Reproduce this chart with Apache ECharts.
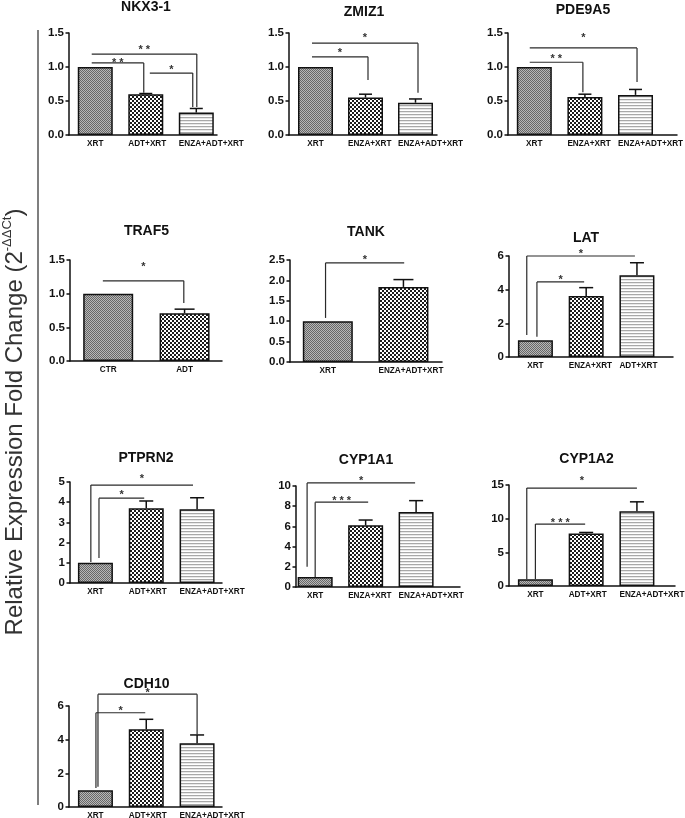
<!DOCTYPE html>
<html>
<head>
<meta charset="utf-8">
<script src="https://cdn.jsdelivr.net/npm/echarts@6/dist/echarts.min.js"></script>
<style>html,body{margin:0;padding:0;background:#fff;}#c{width:685px;height:818px;}</style>
</head>
<body>
<div id="c"></div>
<script>
// ---------------- DATA ----------------
const titles = ['NKX3-1','ZMIZ1','PDE9A5','TRAF5','TANK','LAT','PTPRN2','CYP1A1','CYP1A2','CDH10'];
const categories = [
  ['XRT','ADT+XRT','ENZA+ADT+XRT'],
  ['XRT','ENZA+XRT','ENZA+ADT+XRT'],
  ['XRT','ENZA+XRT','ENZA+ADT+XRT'],
  ['CTR','ADT'],
  ['XRT','ENZA+ADT+XRT'],
  ['XRT','ENZA+XRT','ADT+XRT'],
  ['XRT','ADT+XRT','ENZA+ADT+XRT'],
  ['XRT','ENZA+XRT','ENZA+ADT+XRT'],
  ['XRT','ADT+XRT','ENZA+ADT+XRT'],
  ['XRT','ADT+XRT','ENZA+ADT+XRT']
];
const means = [
  [1.0, 0.60, 0.33],
  [1.0, 0.55, 0.475],
  [1.0, 0.56, 0.59],
  [1.0, 0.71],
  [1.0, 1.84],
  [1.0, 3.62, 4.85],
  [1.0, 3.70, 3.65],
  [1.0, 6.11, 7.43],
  [1.0, 7.80, 11.1],
  [1.0, 4.62, 3.78]
];
const errors = [
  [0, 0.01, 0.06],
  [0, 0.05, 0.055],
  [0, 0.04, 0.08],
  [0, 0.06],
  [0, 0.18],
  [0, 0.50, 0.75],
  [0, 0.36, 0.57],
  [0, 0.52, 1.12],
  [0, 0.15, 1.40],
  [0, 0.59, 0.50]
];
// y-axis tick labels: max, step, decimals
const yMax = [1.5, 1.5, 1.5, 1.5, 2.5, 6, 5, 10, 15, 6];
const yStep = [0.5, 0.5, 0.5, 0.5, 0.5, 2, 1, 2, 5, 2];
const yDecimals = [1, 1, 1, 1, 1, 0, 0, 0, 0, 0];
// significance brackets (data units): [x1, x2, level, leftDropTo, rightDropTo, labelLevel, text]
const brackets = [
  [[-0.07, 2.01, 1.19, null, 0.41, 1.29, '* *'], [-0.07, 0.96, 1.06, null, 0.62, 1.10, '* *'], [1.08, 1.93, 0.91, null, 0.41, 0.99, '*']],
  [[-0.07, 2.05, 1.35, null, 0.62, 1.47, '*'], [-0.07, 1.05, 1.15, null, 0.81, 1.25, '*']],
  [[-0.09, 2.03, 1.28, null, 0.78, 1.47, '*'], [-0.09, 0.96, 1.07, null, 0.63, 1.16, '* *']],
  [[-0.07, 0.99, 1.19, null, 0.86, 1.43, '*']],
  [[-0.03, 1.01, 2.43, 1.08, null, 2.55, '*']],
  [[-0.17, 1.96, 6.0, 1.3, null, 6.24, '*'], [0.03, 0.96, 4.46, 1.2, null, 4.75, '*']],
  [[-0.09, 1.92, 4.85, 1.04, null, 5.25, '*'], [0.07, 0.96, 4.2, 1.24, null, 4.5, '*']],
  [[-0.16, 1.98, 10.3, 2.0, null, 10.7, '*'], [0.0, 1.05, 8.4, 1.0, null, 8.8, '* * *']],
  [[-0.17, 2.0, 14.55, 1.0, null, 15.9, '*'], [0.0, 0.98, 9.2, 1.0, null, 9.66, '* * *']],
  [[0.05, 2.0, 6.7, 1.2, 4.3, 6.95, '*'], [0.01, 0.98, 5.6, 1.13, null, 5.88, '*']]
];
const yTitleMain = 'Relative Expression Fold Change (2';
const yTitleSup = '-ΔΔCt';

// ---------------- LAYOUT ----------------
// [left, top, width, height, xMin, xMax, barWidth, capWidth]
const layout = [
  [69, 33, 148, 102, -0.52, 2.41, 35, 13],
  [289, 33, 148, 102, -0.53, 2.43, 35, 13],
  [508, 33, 169, 102, -0.52, 2.82, 35, 13],
  [70, 260, 152, 101, -0.50, 1.49, 50, 20],
  [290, 260, 152, 102, -0.50, 1.51, 50, 20],
  [509, 256, 164, 101, -0.52, 2.71, 35, 14],
  [70, 482, 152, 101, -0.50, 2.49, 35, 14],
  [296, 486, 164, 101, -0.38, 2.87, 35, 14],
  [509, 485, 166, 101, -0.52, 2.75, 35, 14],
  [69, 706, 153, 101, -0.52, 2.49, 35, 14]
];
const titlePos = [[146,7],[364,12],[583,10],[146.5,231.5],[366,232],[586,238],[146,458.5],[366,460.5],[586.5,459.5],[146.5,684]];

const FONT = 'Liberation Sans, Arial, Helvetica, sans-serif';
const CAT_FONT_SIZE = 8.2;
const measureCtx = document.createElement('canvas').getContext('2d');
measureCtx.font = 'bold ' + CAT_FONT_SIZE + 'px ' + FONT;

function makePattern(kind) {
  const c = document.createElement('canvas');
  let ctx;
  if (kind === 0) {
    c.width = 2; c.height = 2; ctx = c.getContext('2d');
    ctx.fillStyle = '#b8b8b8'; ctx.fillRect(0,0,2,2);
    ctx.fillStyle = '#686868'; ctx.fillRect(0,0,1,1); ctx.fillRect(1,1,1,1);
  } else if (kind === 1) {
    c.width = 4; c.height = 4; ctx = c.getContext('2d');
    ctx.fillStyle = '#ffffff'; ctx.fillRect(0,0,4,4);
    ctx.fillStyle = '#1c1c1c'; ctx.fillRect(0,0,2,2); ctx.fillRect(2,2,2,2);
  } else {
    c.width = 1; c.height = 3; ctx = c.getContext('2d');
    ctx.fillStyle = '#ffffff'; ctx.fillRect(0,0,1,3);
    ctx.fillStyle = '#a8a8a8'; ctx.fillRect(0,0,1,1);
    ctx.fillStyle = '#e8e8e8'; ctx.fillRect(0,1,1,1);
  }
  return { image: c, repeat: 'repeat' };
}
const patterns = [makePattern(0), makePattern(1), makePattern(2)];

const grid = [], xAxis = [], yAxis = [], series = [], graphic = [];

titles.forEach((t, p) => {
  const L = layout[p];
  grid.push({ left: L[0], top: L[1], width: L[2], height: L[3], containLabel: false });
  const cats = categories[p];
  xAxis.push({
    gridIndex: p, type: 'value', min: L[4], max: L[5],
    axisLine: { show: true, onZero: false, lineStyle: { color: '#111', width: 1.5 } },
    axisTick: { show: false },
    splitLine: { show: false },
    axisLabel: { show: false }
  });
  yAxis.push({
    gridIndex: p, type: 'value', min: 0, max: yMax[p], interval: yStep[p],
    axisLine: { show: true, onZero: false, lineStyle: { color: '#111', width: 1.5 } },
    axisTick: { show: true, length: 3.5, lineStyle: { color: '#111', width: 1.5 } },
    splitLine: { show: false },
    axisLabel: {
      formatter: v => v.toFixed(yDecimals[p]),
      fontFamily: FONT, fontWeight: 'bold', fontSize: 11.5, color: '#111', margin: 5
    }
  });
  series.push({
    type: 'bar', xAxisIndex: p, yAxisIndex: p, barWidth: L[6], z: 2,
    data: means[p].map((m, i) => ({
      value: [i, m],
      itemStyle: { color: patterns[i], borderColor: '#111', borderWidth: 1.5 }
    }))
  });
  // category labels placed through the x scale (long labels start at the bar's left edge)
  series.push({
    type: 'custom', xAxisIndex: p, yAxisIndex: p, z: 3, clip: false, silent: true,
    encode: { x: 0, y: 1 },
    data: cats.map((c, i) => [i, 0]),
    renderItem: (params, api) => {
      const pt = api.coord([api.value(0), 0]);
      const txt = cats[params.dataIndex];
      const w = measureCtx.measureText(txt).width;
      const x = pt[0] - Math.min(w, L[6]) / 2;
      return { type: 'text', x: x, y: pt[1] + 4.5, style: {
        text: txt, fontFamily: FONT, fontWeight: 'bold', fontSize: CAT_FONT_SIZE,
        fill: '#111', align: 'left', verticalAlign: 'top' } };
    }
  });
  const errData = [];
  means[p].forEach((m, i) => { if (errors[p][i] > 0) errData.push([i, m, m + errors[p][i]]); });
  series.push({
    type: 'custom', xAxisIndex: p, yAxisIndex: p, z: 4, clip: false, silent: true,
    encode: { x: 0, y: [1, 2] },
    data: errData,
    renderItem: (params, api) => {
      const a = api.coord([api.value(0), api.value(1)]);
      const b = api.coord([api.value(0), api.value(2)]);
      const cw = L[7] / 2;
      const st = { stroke: '#111', lineWidth: 1.5 };
      return { type: 'group', children: [
        { type: 'line', shape: { x1: a[0], y1: a[1], x2: b[0], y2: b[1] }, style: st },
        { type: 'line', shape: { x1: b[0] - cw, y1: b[1], x2: b[0] + cw, y2: b[1] }, style: st }
      ]};
    }
  });
  const br = brackets[p];
  series.push({
    type: 'custom', xAxisIndex: p, yAxisIndex: p, z: 5, clip: false, silent: true,
    encode: { x: [0, 1], y: 2 },
    data: br.map(b => [b[0], b[1], b[2]]),
    renderItem: (params, api) => {
      const b = br[params.dataIndex];
      const st = { stroke: '#2a2a2a', lineWidth: 1.2 };
      const pL = api.coord([b[0], b[2]]);
      const pR = api.coord([b[1], b[2]]);
      const kids = [{ type: 'line', shape: { x1: pL[0], y1: pL[1], x2: pR[0], y2: pR[1] }, style: st }];
      if (b[3] !== null) {
        const d = api.coord([b[0], b[3]]);
        kids.push({ type: 'line', shape: { x1: pL[0], y1: pL[1], x2: d[0], y2: d[1] }, style: st });
      }
      if (b[4] !== null) {
        const d = api.coord([b[1], b[4]]);
        kids.push({ type: 'line', shape: { x1: pR[0], y1: pR[1], x2: d[0], y2: d[1] }, style: st });
      }
      const lp = api.coord([(b[0] + b[1]) / 2, b[5]]);
      kids.push({ type: 'text', x: lp[0], y: lp[1] + 2.5, style: {
        text: b[6], fontFamily: FONT, fontSize: 11, fontWeight: 'bold', fill: '#333',
        align: 'center', verticalAlign: 'middle' } });
      return { type: 'group', children: kids };
    }
  });
  graphic.push({
    type: 'text', x: titlePos[p][0], y: titlePos[p][1],
    style: { text: t, fontFamily: FONT, fontWeight: 'bold', fontSize: 14, fill: '#111', align: 'center', verticalAlign: 'middle' }
  });
});

graphic.push({
  type: 'line', shape: { x1: 38, y1: 30, x2: 38, y2: 805 },
  style: { stroke: '#555', lineWidth: 1.5 }
});
graphic.push({
  type: 'text', x: 14, y: 422, rotation: Math.PI / 2,
  style: {
    text: '{a|' + yTitleMain + '}{b|' + yTitleSup + '}{a|)}',
    align: 'center', verticalAlign: 'middle',
    rich: {
      a: { fontFamily: FONT, fontSize: 24, fill: '#333', lineHeight: 27, verticalAlign: 'bottom' },
      b: { fontFamily: FONT, fontSize: 13, fill: '#333', lineHeight: 27, verticalAlign: 'top' }
    }
  }
});

const chart = echarts.init(document.getElementById('c'), null, { renderer: 'canvas' });
chart.setOption({
  animation: false,
  backgroundColor: '#fff',
  grid, xAxis, yAxis, series, graphic
});
</script>
</body>
</html>
